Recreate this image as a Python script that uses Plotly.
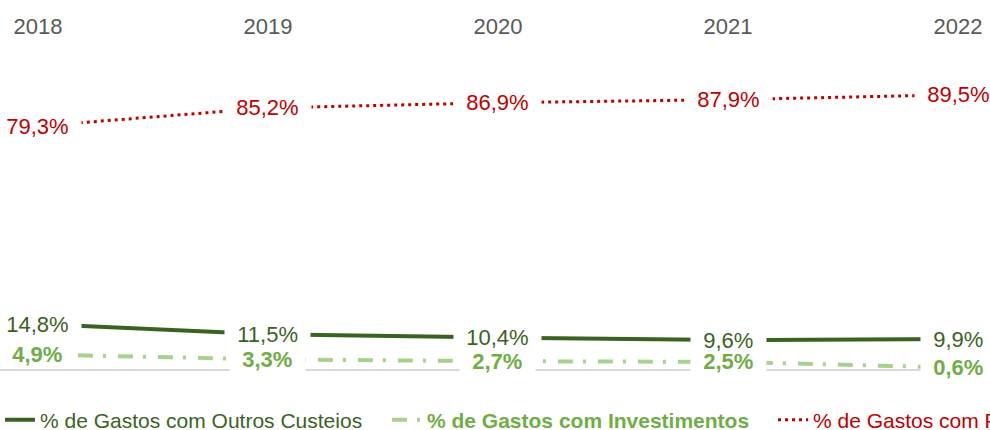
import plotly.graph_objects as go

years = ["2018", "2019", "2020", "2021", "2022"]
pessoal = [79.3, 85.2, 86.9, 87.9, 89.5]
outros = [14.8, 11.5, 10.4, 9.6, 9.9]
invest = [4.9, 3.3, 2.7, 2.5, 0.6]

FONT = "Liberation Sans Narrow, Arial Narrow, Liberation Sans, Arial, sans-serif"
C_OUT = "#3a6223"
C_INV_LINE = "#a9d18e"
C_INV_TXT = "#70ad47"
C_PES = "#c00000"
NB = "\u00a0"


def fmt(v):
    return f"{v:.1f}".replace(".", ",") + "%"


fig = go.Figure()
fig.add_trace(go.Scatter(
    x=years, y=outros, mode="lines", name="% de Gastos com Outros Custeios",
    line=dict(color=C_OUT, width=4), legendwidth=342, hoverinfo="skip"))
fig.add_trace(go.Scatter(
    x=years, y=invest, mode="lines",
    name=f"<b><span style='color:{C_INV_TXT}'>% de Gastos com Investimentos</span></b>",
    line=dict(color=C_INV_LINE, width=4, dash="15px,10px,3px,12px"),
    legendwidth=341, hoverinfo="skip"))
fig.add_trace(go.Scatter(
    x=years, y=pessoal, mode="lines",
    name=f"<span style='color:{C_PES}'>% de Gastos com Pessoal</span>",
    line=dict(color=C_PES, width=3, dash="3px,4px"),
    legendwidth=176, hoverinfo="skip"))

annotations = []
for series, color, bold in ((pessoal, C_PES, False), (invest, C_INV_TXT, True), (outros, C_OUT, False)):
    for i, v in enumerate(series):
        t = fmt(v)
        if bold:
            t = f"<b>{t}</b>"
        t = NB + NB + t + NB + NB
        annotations.append(dict(
            x=i, y=v, xref="x", yref="y", text=t, showarrow=False,
            xanchor="center", yanchor="middle", bgcolor="white",
            borderpad=0,
            font=dict(family=FONT, size=22, color=color)))

fig.update_layout(
    width=990, height=430,
    margin=dict(l=0, r=0, t=43, b=55, autoexpand=False),
    paper_bgcolor="white", plot_bgcolor="white",
    font=dict(family=FONT, size=21, color=C_OUT),
    showlegend=True,
    legend=dict(orientation="h", x=0, xanchor="left", y=-0.136, yanchor="middle",
                font=dict(family=FONT, size=21, color=C_OUT),
                itemwidth=30, bgcolor="rgba(0,0,0,0)", traceorder="normal"),
    xaxis=dict(side="top", type="category", range=[-0.165, 4.139],
               showgrid=False, showline=False, zeroline=False, ticks="",
               tickfont=dict(family=FONT, size=22, color="#595959"),
               ticklabelstandoff=4),
    yaxis=dict(range=[-1.79, 106.35], showgrid=False, showline=False,
               showticklabels=False, ticks="", zeroline=True,
               zerolinecolor="#d9d9d9", zerolinewidth=2),
    annotations=annotations,
    hovermode=False,
)

fig.write_html("out.html", config={"displayModeBar": False},
               post_script="document.body.style.margin='0';document.body.style.overflow='hidden';")
